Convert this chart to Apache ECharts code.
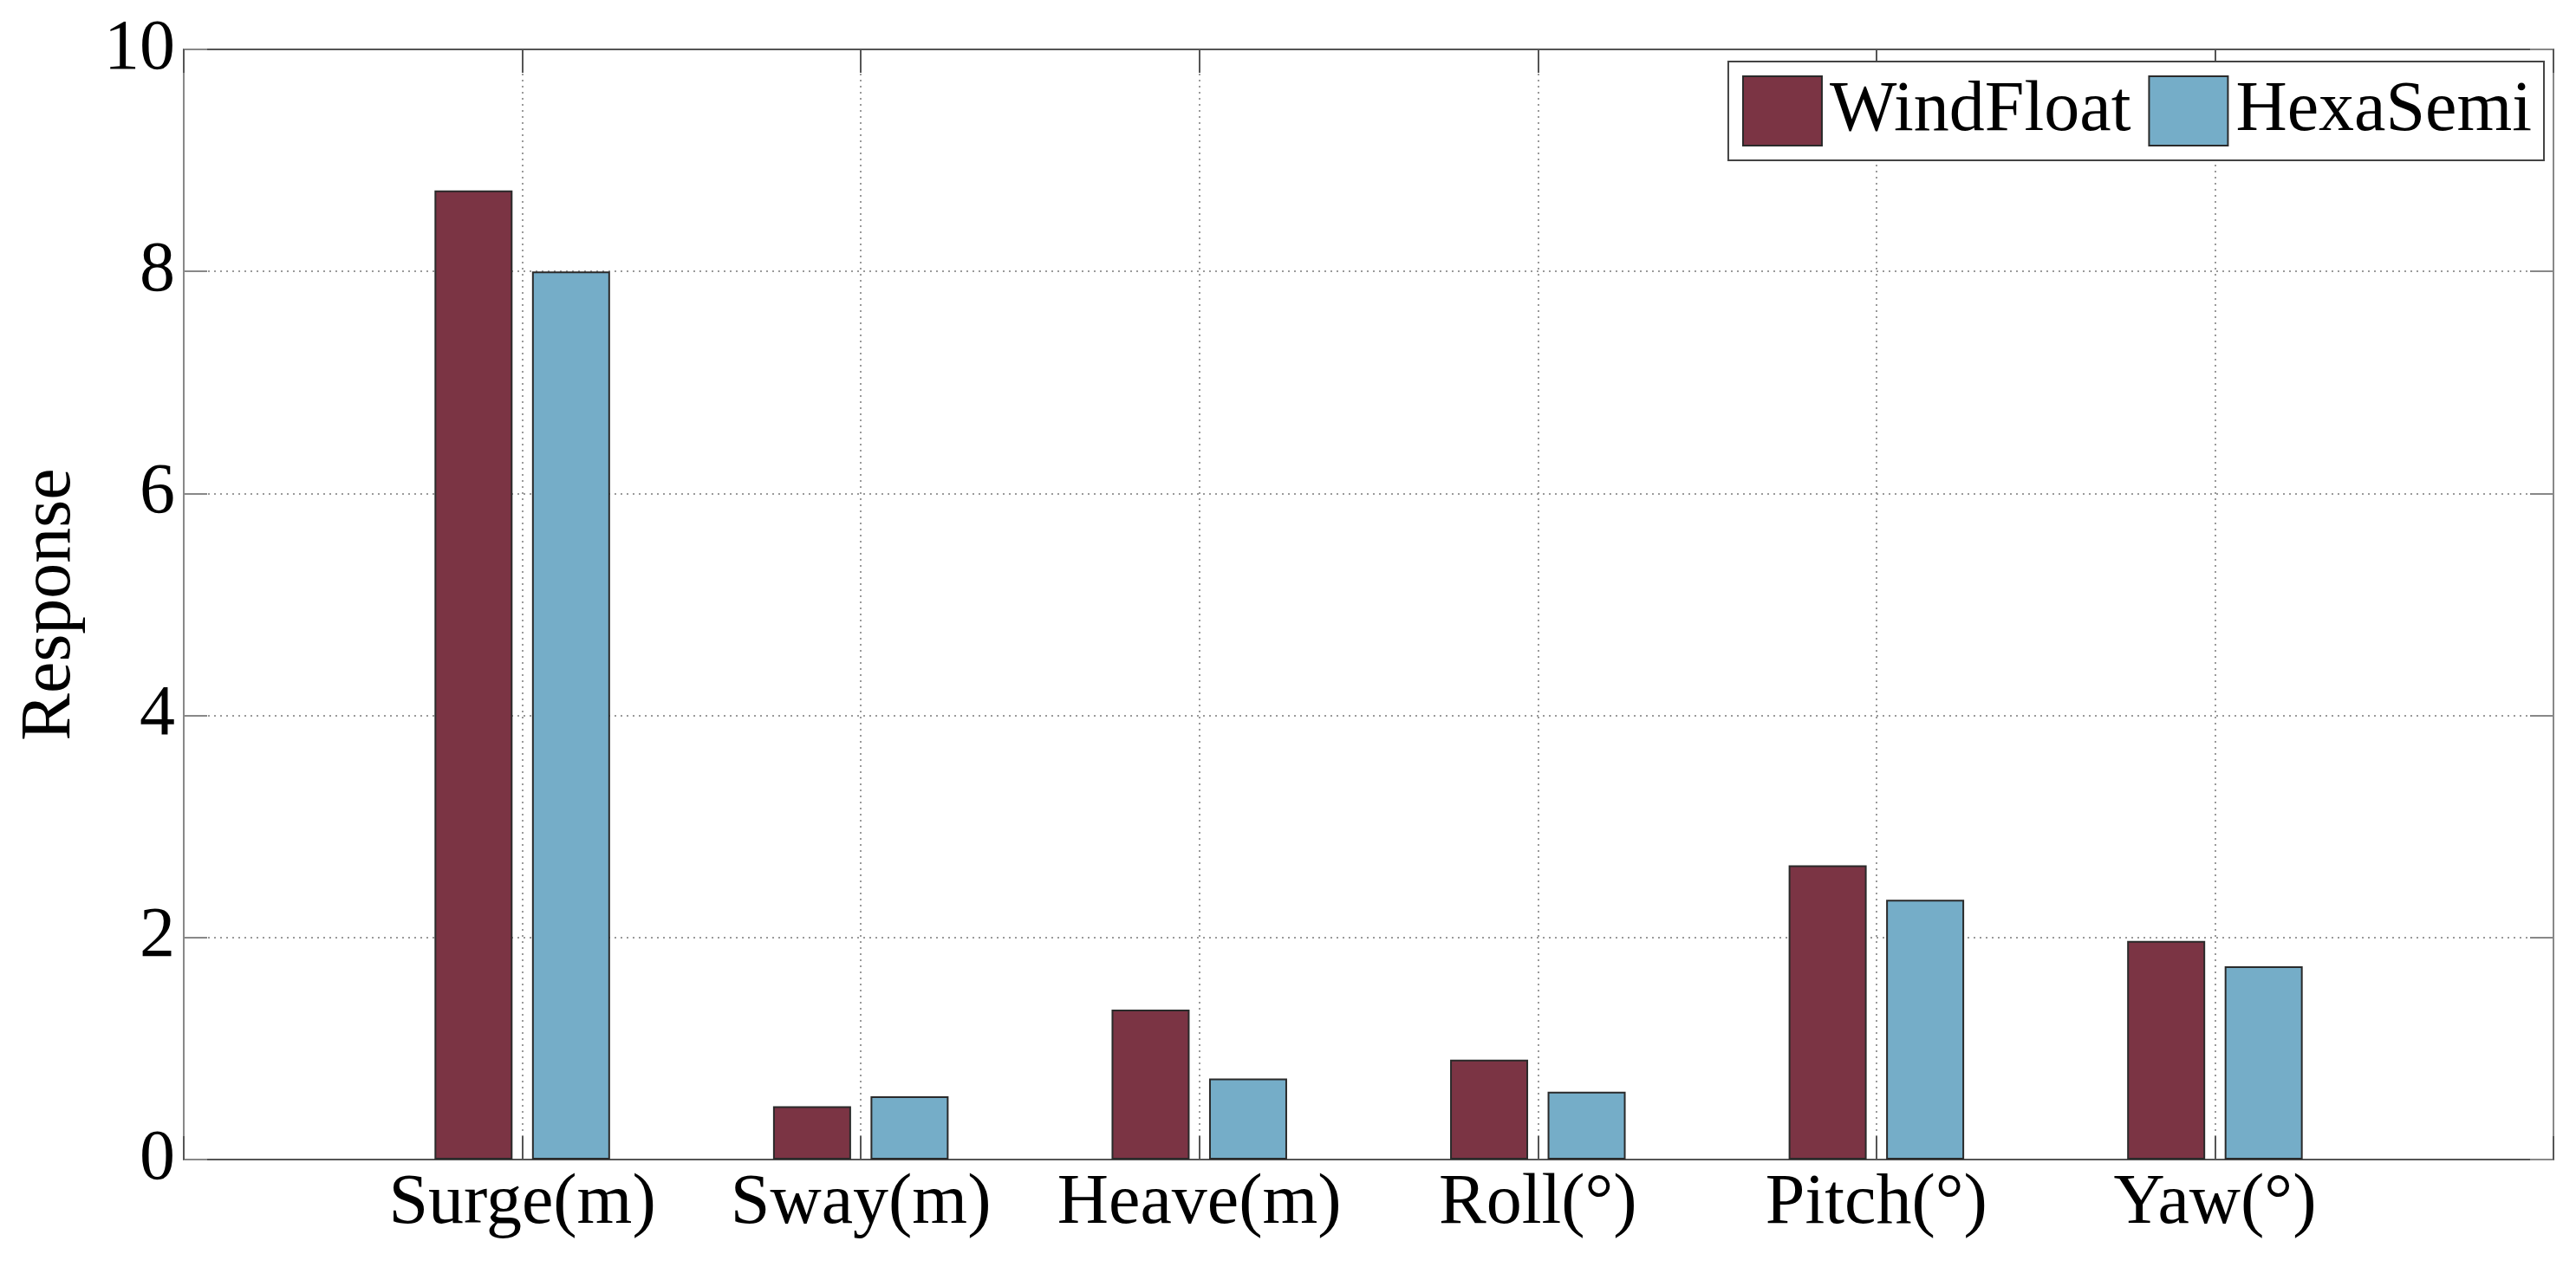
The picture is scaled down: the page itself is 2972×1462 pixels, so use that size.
<!DOCTYPE html>
<html>
<head>
<meta charset="utf-8">
<script src="https://cdn.jsdelivr.net/npm/echarts@6/dist/echarts.min.js"></script>
<style>
  html, body { margin: 0; padding: 0; background: #fff; }
  #chart { width: 2972px; height: 1462px; }
</style>
</head>
<body>
<div id="chart"></div>
<script>
const categories = ['Surge(m)', 'Sway(m)', 'Heave(m)', 'Roll(°)', 'Pitch(°)', 'Yaw(°)'];
const windFloat = [8.73, 0.48, 1.35, 0.90, 2.65, 1.97];
const hexaSemi  = [8.00, 0.57, 0.73, 0.61, 2.34, 1.74];
const seriesNames = ['WindFloat', 'HexaSemi'];
const yTicks = [0, 2, 4, 6, 8, 10];

const FONT = '"Liberation Serif", "Times New Roman", serif';
const chart = echarts.init(document.getElementById('chart'), null, { renderer: 'canvas' });

const axisLineDark = { show: true, onZero: false, lineStyle: { color: '#555', width: 2 } };
const axisLineLight = { show: true, onZero: false, lineStyle: { color: '#888', width: 2 } };
const tickDark = { show: true, inside: true, length: 27, lineStyle: { color: '#555', width: 2 } };
const tickLight = { show: true, inside: true, length: 27, lineStyle: { color: '#888', width: 2 } };
const dotted = { show: true, lineStyle: { color: '#9a9a9a', width: 2, type: [2, 5] } };

const option = {
  animation: false,
  backgroundColor: '#fff',
  grid: { left: 212, right: 26, top: 57, bottom: 124, containLabel: false },
  legend: {
    data: seriesNames,
    right: 37,
    top: 71,
    orient: 'horizontal',
    itemWidth: 91,
    itemHeight: 80,
    itemGap: 20,
    padding: [16, 14, 16, 16],
    borderColor: '#444',
    borderWidth: 2,
    backgroundColor: '#fff',
    icon: 'rect',
    textStyle: { fontFamily: FONT, fontSize: 82, color: '#000', padding: [0, 0, 0, 4] }
  },
  xAxis: [
    {
      type: 'value', min: 0, max: 7, interval: 1, position: 'bottom',
      axisLine: axisLineDark, axisTick: tickDark,
      axisLabel: {
        fontFamily: FONT, fontSize: 82, color: '#000', margin: 10,
        formatter: v => (v >= 1 && v <= categories.length) ? categories[v - 1] : ''
      },
      splitLine: dotted
    },
    {
      type: 'value', min: 0, max: 7, interval: 1, position: 'top',
      axisLine: axisLineDark, axisTick: tickDark,
      axisLabel: { show: false }, splitLine: { show: false }
    }
  ],
  yAxis: [
    {
      type: 'value', min: yTicks[0], max: yTicks[yTicks.length - 1], interval: 2, position: 'left',
      name: 'Response', nameLocation: 'middle', nameGap: 113, nameRotate: 90,
      nameTextStyle: { fontFamily: FONT, fontSize: 82, color: '#000' },
      axisLine: axisLineLight, axisTick: tickLight,
      axisLabel: { fontFamily: FONT, fontSize: 82, color: '#000', margin: 10 },
      splitLine: dotted
    },
    {
      type: 'value', min: yTicks[0], max: yTicks[yTicks.length - 1], interval: 2, position: 'right',
      axisLine: axisLineLight, axisTick: tickLight,
      axisLabel: { show: false }, splitLine: { show: false }
    }
  ],
  series: [
    {
      name: seriesNames[0], type: 'bar', xAxisIndex: 0, yAxisIndex: 0,
      barWidth: 90, barGap: '25%',
      itemStyle: { color: '#7B3444', borderColor: '#2a2a2a', borderWidth: 2 },
      data: windFloat.map((v, i) => [i + 1, v])
    },
    {
      name: seriesNames[1], type: 'bar', xAxisIndex: 0, yAxisIndex: 0,
      barWidth: 90, barGap: '25%',
      itemStyle: { color: '#75ADC8', borderColor: '#2a2a2a', borderWidth: 2 },
      data: hexaSemi.map((v, i) => [i + 1, v])
    }
  ]
};
chart.setOption(option);
</script>
</body>
</html>
